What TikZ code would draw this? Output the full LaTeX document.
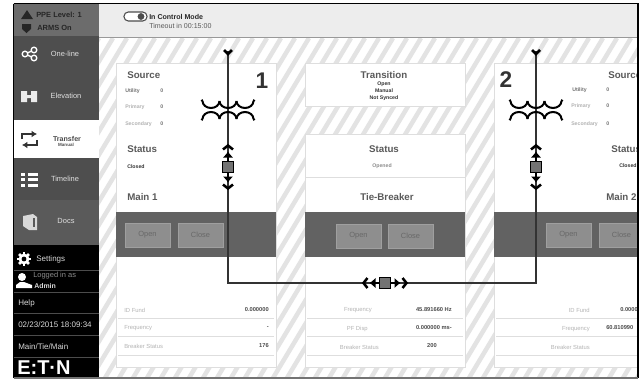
\documentclass[tikz,border=0pt]{standalone}
\usepackage{fontspec}
\setmainfont{Liberation Sans}
\usepackage{xcolor}
\usetikzlibrary{arrows.meta}

\definecolor{navdark}{HTML}{4E4E4E}
\definecolor{navdocs}{HTML}{5A5A5A}
\definecolor{navtop}{HTML}{6C6C6C}
\definecolor{barback}{HTML}{EDEDED}
\definecolor{hatch}{HTML}{E3E3E3}
\definecolor{panelline}{HTML}{DEDEDE}
\definecolor{bandback}{HTML}{626262}
\definecolor{btnback}{HTML}{8E8E8E}
\definecolor{btntext}{HTML}{686868}
\definecolor{head}{HTML}{5A5A5A}
\definecolor{faint}{HTML}{B4B4B4}

\begin{document}
\begin{tikzpicture}[x=0.75pt,y=-0.75pt]
		\tikzstyle{every node}=[inner sep=0pt]
		\tikzstyle{left text}=[anchor=west]
		\tikzstyle{right text}=[anchor=east]
		\tikzstyle{nav}=[text=white!88!black,font=\fontsize{5.6}{6}\selectfont]
		\tikzstyle{foot}=[left text,text=white!85!black,font=\fontsize{6}{7}\selectfont]
		\tikzstyle{heading}=[text=head,font=\bfseries\fontsize{7.3}{8}\selectfont]
		\tikzstyle{small}=[text=black!80,font=\bfseries\fontsize{3.9}{5}\selectfont]
		\tikzstyle{source row}=[left text,text=black!55,font=\bfseries\fontsize{3.9}{5}\selectfont]
		\tikzstyle{row label}=[text=faint,font=\fontsize{4.4}{5}\selectfont]
		\tikzstyle{row value}=[text=black!70,font=\bfseries\fontsize{4.3}{5}\selectfont]
		\tikzstyle{btn}=[fill=btnback,draw=btnback!85!white,minimum width=33.5pt,minimum height=18pt,text=btntext,font=\fontsize{5.6}{6}\selectfont]
		\tikzstyle{panel}=[fill=white,draw=panelline,line width=0.7pt]
		\tikzstyle{bus}=[draw=black!80,line width=1.2pt]
		\tikzstyle{chevron}=[black,line width=1.9pt]
		\tikzstyle{coil}=[black,line width=1.5pt]
		\tikzstyle{stub}=[black,line width=2pt,-{Latex[length=4.5pt,width=8pt]}]
		\useasboundingbox (0,0) rectangle (640,379);
		\fill[white] (0,0) rectangle (640,379);
		\begin{scope}
			\clip (14,4) rectangle (637,377);
			% striped back
			\foreach \x in {99,113,...,850} {
				\draw[hatch,line width=3.4pt] (\x,38) -- ++(-204,340);
			}
			% top bar
			\fill[barback] (99,4) rectangle (637,37);
			\draw[black!40,line width=0.9pt] (99,37.5) -- (637,37.5);
			% side bar
			\fill[navtop] (14,4) rectangle (99,36);
			\fill[navdark] (14,36) rectangle (99,120);
			\fill[white] (14,120) rectangle (99,158);
			\fill[navdark] (14,158) rectangle (99,200);
			\fill[navdocs] (14,200) rectangle (99,245);
			\fill[black] (14,245) rectangle (99,377);
			\foreach \y in {270,292,313,335,357} {
				\draw[black!70!white,line width=0.5pt] (14,\y) -- (99,\y);
			}
			% panels
			\draw[panel] (116,63) rectangle (276,367);
			\draw[panel] (305,63) rectangle (465,106);
			\draw[panel] (305,134) rectangle (465,367);
			\draw[panel] (305,177) -- (465,177);
			\draw[panel] (494,63) rectangle (645,367);
			\foreach \px/\pw in {116/160,305/160,494/150} {
				\fill[bandback] (\px,212) rectangle ++(\pw,45);
				\foreach \y in {318,336,355} {
					\draw[panelline,line width=0.4pt] (\px+2,\y) -- ++(\pw-4,0);
				}
			}
			% bar and side bar texts
			\node[left text,text=black!85,font=\bfseries\fontsize{5.6}{6}\selectfont] (ppelevel) at (36,15) {PPE Level: 1};
			\node[left text,text=black!85,font=\bfseries\fontsize{5.6}{6}\selectfont] (armson) at (37,28) {ARMS On};
			\node[left text,text=black!85,font=\bfseries\fontsize{5.3}{6}\selectfont] (controlmode) at (149,17) {In Control Mode};
			\node[left text,text=black!65,font=\fontsize{5.3}{6}\selectfont] (timeout) at (149,26) {Timeout in 00:15:00};
			\draw[black!70,fill=white,rounded corners=3.2pt,line width=0.8pt] (124,12) rectangle (147,21);
			\fill[black!70] (141,16.5) circle (3.4);
			\node[nav] (oneline) at (65,54) {One-line};
			\node[nav] (elevation) at (66,96) {Elevation};
			\node[nav,text=black!70,font=\bfseries\fontsize{5.3}{6}\selectfont] (transfer) at (67,139) {Transfer};
			\node[text=black!70,font=\bfseries\fontsize{3.4}{4}\selectfont] (manualmode) at (66,145) {Manual};
			\node[nav] (timeline) at (65,179) {Timeline};
			\node[nav] (docs) at (66,221) {Docs};
			\node[foot] (settings) at (36,259) {Settings};
			\node[foot,text=black!45!white,font=\fontsize{5.6}{6}\selectfont] (loggedin) at (33,276) {Logged in as};
			\node[foot,font=\bfseries\fontsize{5.2}{6}\selectfont] (admin) at (34,286) {Admin};
			\node[foot] (help) at (18,303) {Help};
			\node[foot] (clock) at (18,325) {02/23/2015 18:09:34};
			\node[foot] (scheme) at (18,347) {Main/Tie/Main};
			\node[foot,text=white,font=\bfseries\fontsize{15}{16}\selectfont] (logo) at (17,368) {E:T·N};
			% icons
			\fill[black!85] (21,19) -- (27,10) -- (33,19) -- cycle;
			\fill[black!85] (22,24) -- (31,24) -- (31,29) -- (26.5,33) -- (22,29) -- cycle;
			\draw[white,line width=1pt] (25,54) -- (34,50) (25,54) -- (34,58);
			\draw[white,fill=navdark,line width=1pt] (25,54) circle (2.8) (34,50) circle (2.8) (34,58) circle (2.8);
			\fill[white!92!black] (21,91) rectangle (27,102) (31,91) rectangle (37,102) (27,95) rectangle (31,98);
			\draw[black!80,line width=1.5pt,-{Latex[length=4pt,width=5pt]}] (22,139) -- (22,134) -- (37,134);
			\draw[black!80,line width=1.5pt,-{Latex[length=4pt,width=5pt]}] (37,140) -- (37,145) -- (22,145);
			\foreach \y in {174,179.5,185} {
				\fill[white] (21,\y-1.5) rectangle (25,\y+1.5);
				\fill[white] (28,\y-1.5) rectangle (38,\y+1.5);
			}
			\fill[white!85!black] (23,216) -- (33,214) -- (37,217) -- (37,230) -- (29,230) -- (23,226) -- cycle;
			\fill[navdocs] (33,218) -- (35,218) -- (35,227) -- (33,227) -- cycle;
			\foreach \a in {0,45,...,315} {
				\draw[white,line width=2pt] (24,259) -- ++(\a:7);
			}
			\fill[white] (24,259) circle (5.4);
			\fill[black] (24,259) circle (2.4);
			\fill[white] (22,277) circle (4);
			\fill[white] (16,288) -- (16,285) -- (20,282) -- (24,282) -- (32,285) -- (32,288) -- cycle;
			% panel one
			\node[left text,heading] (sourceone) at (127,75) {Source};
			\node[source row] (utilityone) at (125,91) {Utility};
			\node[source row,text=black!30] (primaryone) at (125,107) {Primary};
			\node[source row,text=black!30] (secondaryone) at (125,124) {Secondary};
			\foreach \name/\y in {a/91,b/107,c/124} {
				\node[source row] (zero\name one) at (160,\y) {0};
			}
			\node[left text,heading] (statusone) at (127,149) {Status};
			\node[left text,small] (closedone) at (127,167) {Closed};
			\node[left text,heading] (mainone) at (127,197) {Main 1};
			\node[text=black!80,font=\bfseries\fontsize{17}{18}\selectfont] (numberone) at (262,81) {1};
			\node[btn] (openone) at (147.5,235) {Open};
			\node[btn] (closeone) at (200.5,235) {Close};
			\node[left text,row label] (fundone) at (124,310) {ID Fund};
			\node[left text,row label] (freqone) at (124,328) {Frequency};
			\node[left text,row label] (breakerone) at (124,346) {Breaker Status};
			\node[right text,row value] (fundvalone) at (269,310) {0.000000};
			\node[right text,row value] (freqvalone) at (269,328) {-};
			\node[right text,row value] (breakervalone) at (269,346) {176};
			% middle panels
			\node[heading] (transition) at (384,75) {Transition};
			\node[small] (trans open) at (384,84) {Open};
			\node[small] (trans manual) at (384,91) {Manual};
			\node[small] (trans sync) at (384,98) {Not Synced};
			\node[heading] (statustie) at (384,149) {Status};
			\node[small,text=black!45] (openedtie) at (382,166) {Opened};
			\node[heading] (tiebreaker) at (387,197) {Tie-Breaker};
			\node[btn] (opentie) at (358.5,236) {Open};
			\node[btn] (closetie) at (410.5,236) {Close};
			\node[right text,row label] (freqtie) at (372,310) {Frequency};
			\node[right text,row label] (pfdisp) at (368,329) {PF Disp};
			\node[right text,row label] (breakertie) at (379,347) {Breaker Status};
			\node[right text,row value] (freqvaltie) at (452,310) {45.891660 Hz};
			\node[right text,row value] (pfvaltie) at (452,328) {0.000000 ms-};
			\node[row value] (breakervaltie) at (432,346) {200};
			% panel two
			\node[text=black!80,font=\bfseries\fontsize{17}{18}\selectfont] (numbertwo) at (506,80) {2};
			\node[left text,heading] (sourcetwo) at (608,75) {Source};
			\node[source row] (utilitytwo) at (572,90) {Utility};
			\node[source row,text=black!30] (primarytwo) at (571,106) {Primary};
			\node[source row,text=black!30] (secondarytwo) at (571,124) {Secondary};
			\foreach \name/\y in {a/90,b/106,c/124} {
				\node[source row] (zero\name two) at (606,\y) {0};
			}
			\node[left text,heading] (statustwo) at (611,149) {Status};
			\node[left text,small] (closedtwo) at (619,166) {Closed};
			\node[left text,heading] (maintwo) at (606,197) {Main 2};
			\node[btn] (opentwo) at (568.5,235) {Open};
			\node[btn] (closetwo) at (621.5,235) {Close};
			\node[right text,row label] (fundtwo) at (590,310) {ID Fund};
			\node[right text,row label] (freqtwo) at (590,329) {Frequency};
			\node[right text,row label] (breakertwo) at (590,347) {Breaker Status};
			\node[left text,row value] (fundvaltwo) at (620,310) {0.000000};
			\node[left text,row value] (freqvaltwo) at (606,328) {60.810990};
			% bus line
			\coordinate (feedone) at (228,51);
			\coordinate (cornerone) at (228,283);
			\coordinate (cornertwo) at (536,283);
			\coordinate (feedtwo) at (536,51);
			\draw[bus] (feedone) -- (cornerone) -- (cornertwo) -- (feedtwo);
			% feed chevrons and coils
			\foreach \cx in {228,536} {
				\draw[chevron] (\cx-4,50) -- (\cx,54) -- (\cx+4,50);
				\foreach \i in {-1,0,1} {
					\draw[coil] (\cx+\i*17-8.5,101) arc (180:0:8.5 and 7);
					\draw[coil] (\cx+\i*17-8.5,119) arc (180:360:8.5 and 7);
				}
				\draw[coil] (\cx-25.5,101) -- ++(-1,-1.2) (\cx+25.5,101) -- ++(1,-1.2);
				\draw[coil] (\cx-25.5,119) -- ++(-1,1.2) (\cx+25.5,119) -- ++(1,1.2);
			}
			% breakers
			\foreach \breaker/\bx/\by/\ang in {breakerboxone/228/167/0,breakerboxtwo/536/167/0,breakerboxtie/385/283/90} {
				\begin{scope}[shift={(\bx,\by)},rotate=\ang]
					\node[draw=black,fill=black!55,line width=1pt,minimum size=8.5pt] (\breaker) at (0,0) {};
					\draw[stub] (\breaker) ++(0,-6) -- ++(0,-9.5);
					\draw[stub] (\breaker) ++(0,6) -- ++(0,9.5);
					\draw[chevron] (-5,-17.5) -- (0,-21.5) -- (5,-17.5);
					\draw[chevron] (-5,17.5) -- (0,21.5) -- (5,17.5);
				\end{scope}
			}
		\end{scope}
		% outer frame
		\draw[black,line width=1.4pt] (13.5,3.5) -- (638,3.5) -- (638,377.5);
		\draw[black,line width=1.4pt] (13.5,3.5) -- (13.5,377.5);
		\draw[black!55,line width=0.8pt] (13.5,378) -- (638,378);
	\end{tikzpicture}
\end{document}
